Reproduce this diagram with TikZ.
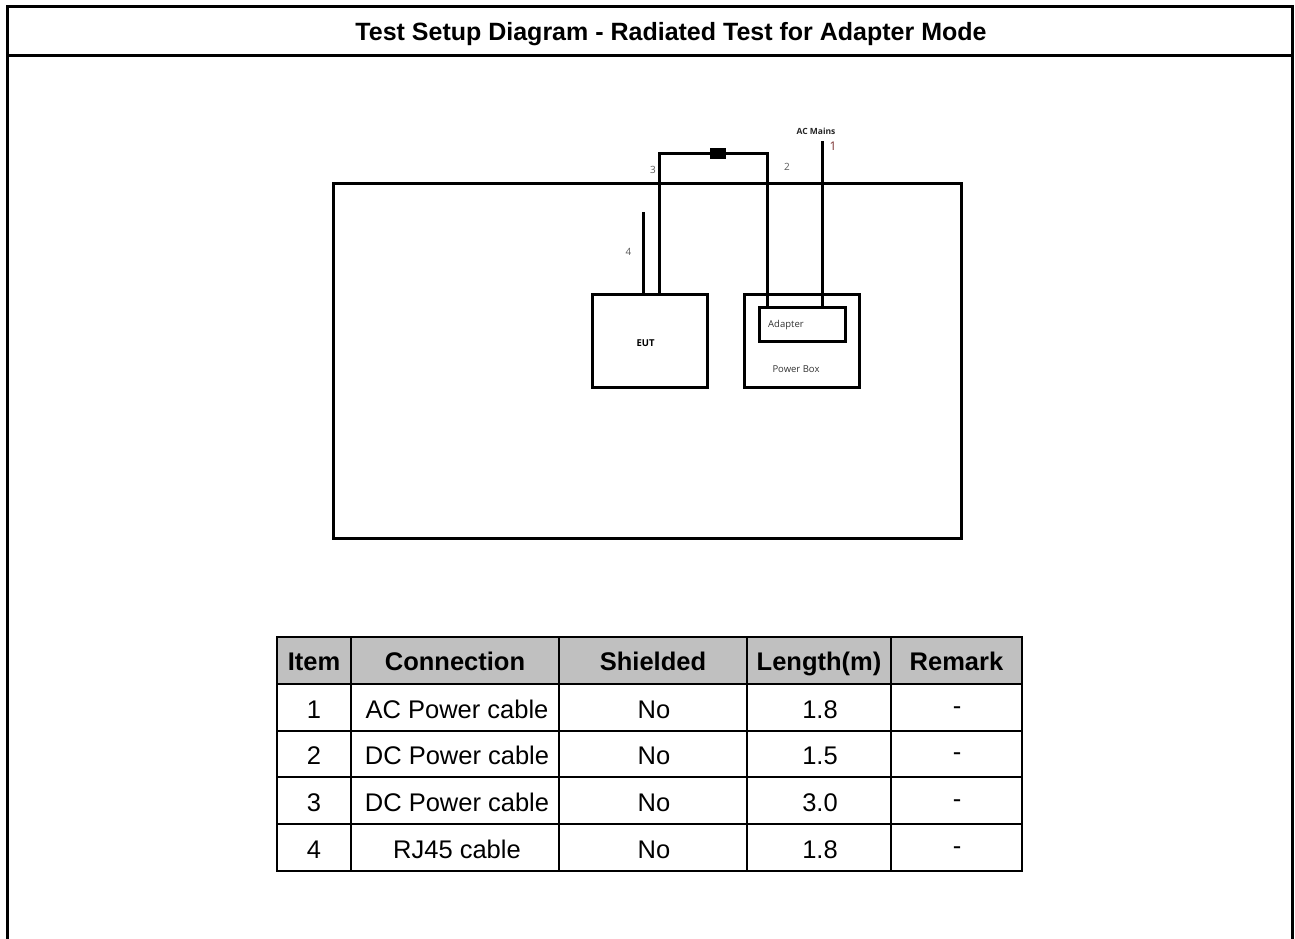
\documentclass[tikz,border=0pt]{standalone}
\usepackage{fontspec}
\setmainfont{Liberation Sans}
\newfontfamily\segoe{Open Sans}
\definecolor{hdrgray}{HTML}{C0C0C0}
\definecolor{lblgray}{HTML}{595959}
\definecolor{mainsred}{HTML}{7A3030}
\tikzset{
  frameline/.style={line width=3pt},
  wire/.style={line width=3pt},
  boxnode/.style={draw, line width=3pt, inner sep=0pt},
  gridline/.style={line width=2pt},
  celltext/.style={font=\fontsize{25.5}{30}\selectfont, inner sep=0pt, anchor=base},
  headtext/.style={font=\fontsize{25.5}{30}\selectfont\bfseries, inner sep=0pt, anchor=base},
  smalllbl/.style={font=\segoe\fontsize{10}{12}\selectfont, text=lblgray, inner sep=0pt},
  boxlbl/.style={font=\segoe\fontsize{9.5}{12}\selectfont, text=black!80, inner sep=0pt}
}
\begin{document}
\begin{tikzpicture}[x=1pt,y=-1pt]
\useasboundingbox (0,0) rectangle (1295,939);

% outer frame, open at the bottom, with the title bar
\draw[frameline] (7.5,939) -- (7.5,6.5) -- (1292,6.5) -- (1292,939);
\draw[frameline] (7.5,55.5) -- (1292,55.5);
\node[font=\fontsize{25}{30}\selectfont\bfseries, inner sep=0pt, anchor=base] (title) at (671,41)
  {Test Setup Diagram - Radiated Test for Adapter Mode};

% test table outline
\node[boxnode, minimum width=628pt, minimum height=355pt] (bench) at (647,360.5) {};

% equipment
\node[boxnode, minimum width=115pt, minimum height=93pt] (eut) at (649.5,340.5) {};
\node[font=\segoe\fontsize{9.5}{11}\selectfont\bfseries, inner sep=0pt] (eutlbl) at (645.5,343) {EUT};
\node[boxnode, minimum width=115pt, minimum height=93pt] (pbox) at (801.5,340.5) {};
\node[boxlbl] (pboxlbl) at (796,369) {Power Box};
\node[boxnode, minimum width=86pt, minimum height=34pt] (adapter) at (802,324) {};
\node[boxlbl, anchor=west] (adapterlbl) at (768,325.5) {Adapter};

% cables
\coordinate (rjend) at (643,212);
\draw[wire] (rjend) -- (rjend |- eut.north);

\node[fill=black, minimum width=16pt, minimum height=11pt, inner sep=0pt] (ferrite) at (718,153.5) {};
\coordinate (dceut) at (659.5,153.5);
\coordinate (dcadp) at (767.5,153.5);
\draw[wire] (dceut |- eut.north) -- (dceut) -- (ferrite.west);
\draw[wire] (ferrite.east) -- (dcadp) -- (dcadp |- adapter.north);

\coordinate (mains) at (822,141);
\draw[wire] (mains) -- (mains |- adapter.north);

% cable labels
\node[font=\segoe\fontsize{8.5}{10}\selectfont\bfseries, text=black!85, inner sep=0pt] (mainslbl) at (816,131) {AC Mains};
\node[font=\segoe\fontsize{12}{14}\selectfont, text=mainsred, inner sep=0pt] (n1) at (833,146) {1};
\node[smalllbl] (n2) at (787,167) {2};
\node[smalllbl] (n3) at (653,169.5) {3};
\node[smalllbl] (n4) at (628.5,252) {4};

% cable list
\fill[hdrgray] (277,637) rectangle (1022,684);
\foreach \y in {637,684,731,777,824,871}
  \draw[gridline] (276,\y) -- (1023,\y);
\foreach \x in {277,351,559,747,891,1022}
  \draw[gridline] (\x,636) -- (\x,872);

\foreach \cx/\txt [count=\i] in {314/Item,455/Connection,653/Shielded,819/Length(m),956.5/Remark}
  \node[headtext] (head\i) at (\cx,670) {\txt};

\foreach \n/\conn/\len [count=\r] in {1/AC Power cable/1.8, 2/DC Power cable/1.5, 3/DC Power cable/3.0, 4/RJ45 cable/1.8}{
  \pgfmathsetmacro{\yy}{718+46.75*(\r-1)}
  \node[celltext] (item\r) at (314,\yy) {\n};
  \node[celltext] (conn\r) at (457,\yy) {\conn};
  \node[celltext] (shld\r) at (654,\yy) {No};
  \node[celltext] (len\r) at (820,\yy) {\len};
  \node[celltext] (rmk\r) at (957,\yy-4) {-};
}
\end{tikzpicture}
\end{document}
